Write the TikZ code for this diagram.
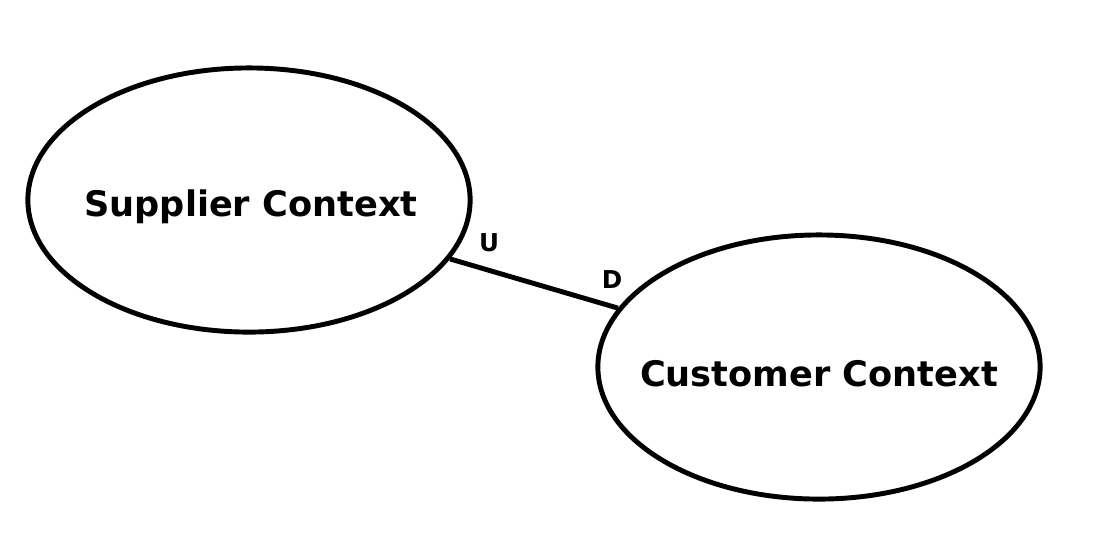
\documentclass[tikz,border=0pt]{standalone}
\usepackage{fontspec}
\setmainfont{DejaVu Sans}
\usetikzlibrary{positioning,shapes.geometric}

\begin{document}
\begin{tikzpicture}[x=0.01cm,y=-0.01cm,line width=1.4pt,
	context/.style={ellipse,draw=black,minimum width=4.42cm,minimum height=2.64cm,inner sep=0pt},
	title/.style={font=\bfseries\fontsize{10}{12}\selectfont,inner sep=0pt},
	side/.style={font=\bfseries\fontsize{7}{8}\selectfont,inner sep=0pt}]
	\useasboundingbox (0,0) rectangle (1118,538);

	%contexts
	\node[context] (sup) at (249,200) {};
	\node[context] (cus) at (819,367) {};
	\node[title] (suptext) at (251,207) {Supplier Context};
	\node[title] (custext) at (819,374) {Customer Context};

	%relation labels
	\node[side] (up) at (489,243) {U};
	\node[side] (down) at (612,280) {D};

	%relation
	\draw (sup) -- (cus);
\end{tikzpicture}
\end{document}
